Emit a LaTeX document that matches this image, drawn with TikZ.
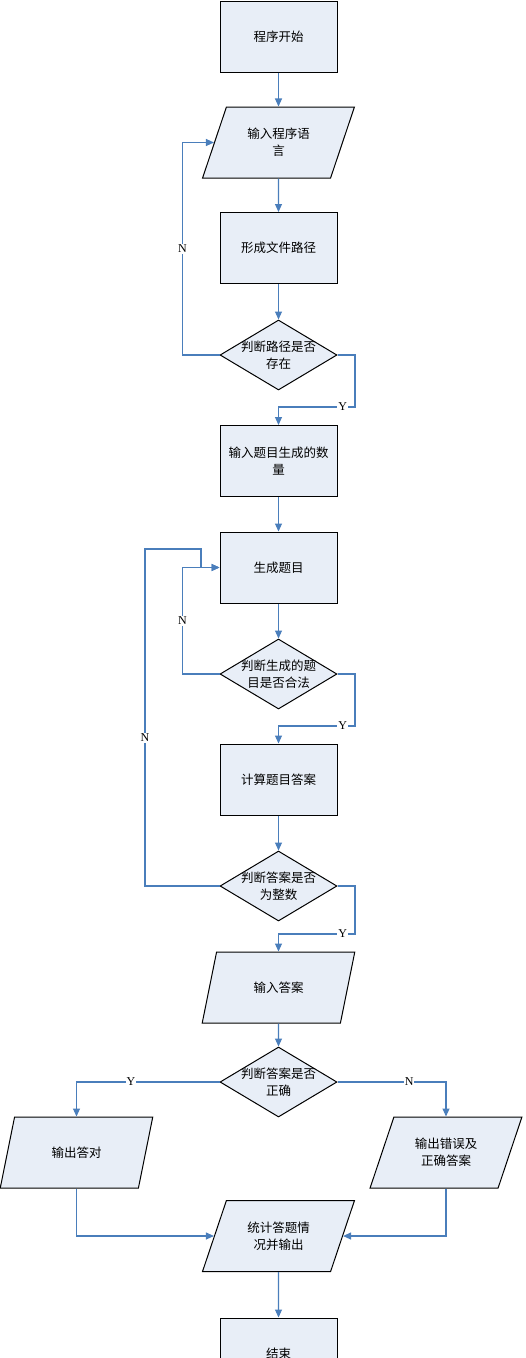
\documentclass[tikz,border=0pt]{standalone}
\usepackage{fontspec}
\setmainfont{Liberation Serif}
\newfontfamily\cjk{Noto Sans CJK SC}
\usetikzlibrary{arrows.meta,shapes.geometric}

\definecolor{boxfill}{HTML}{E8EEF7}
\definecolor{linkblue}{HTML}{4A7EBB}

\tikzset{
  cjktext/.style={font=\cjk\fontsize{12.5}{17}\selectfont, align=center},
  box/.style={draw=black, line width=1pt, fill=boxfill, minimum width=117pt,
    minimum height=71pt, inner sep=0pt, cjktext},
  io/.style={trapezium, trapezium left angle=63.4, trapezium right angle=116.6,
    trapezium stretches=true, draw=black, line width=1pt, fill=boxfill,
    minimum width=153pt, minimum height=71pt, inner sep=0pt, cjktext},
  decision/.style={diamond, draw=black, line width=1pt, fill=boxfill,
    minimum width=117pt, minimum height=70pt, inner sep=0pt},
  conn/.style={draw=linkblue, line width=1.1pt, -{Triangle[length=8pt,width=7pt]}},
  flag/.style={fill=white, inner sep=1pt, text=black, font=\fontsize{12}{12}\selectfont}
}

\begin{document}
\begin{tikzpicture}[x=1pt, y=-1pt]
  \useasboundingbox (0,0) rectangle (526,1358);
  \clip (0,0) rectangle (526,1358);

  % Main column
  \node[box] (start) at (278.5, 36.5) {程序开始};
  \node[io] (lang) at (278.5, 142.5) {输入程序语\\言};
  \node[box] (path) at (278.5, 248) {形成文件路径};
  \node[decision, label={[cjktext]center:{判断路径是否\\存在}}] (chkpath) at (278.5, 355) {};
  \node[box] (count) at (278.5, 461) {输入题目生成的数\\量};
  \node[box] (gen) at (278.5, 567.5) {生成题目};
  \node[decision, label={[cjktext]center:{判断生成的题\\目是否合法}}] (chkgen) at (278.5, 674) {};
  \node[box] (calc) at (278.5, 779.5) {计算题目答案};
  \node[decision, label={[cjktext]center:{判断答案是否\\为整数}}] (chkint) at (278.5, 886) {};
  \node[io] (answer) at (278.5, 987.5) {输入答案};
  \node[decision, label={[cjktext]center:{判断答案是否\\正确}}] (chkans) at (278.5, 1082) {};

  % Branches and end
  \node[io] (right) at (76.5, 1152.5) {输出答对};
  \node[io] (wrong) at (446, 1152.5) {输出错误及\\正确答案};
  \node[io] (stats) at (278.5, 1236) {统计答题情\\况并输出};
  \node[box] (finish) at (278.5, 1353.5) {结束};

  % Turning points
  \coordinate (ypath) at (355, 407);
  \coordinate (ygen) at (355, 726);
  \coordinate (yint) at (355, 934);
  \coordinate (nint) at (145, 549);
  \coordinate (nmeet) at (201, 567.5);

  % Straight links
  \draw[conn] (start) -- (lang);
  \draw[conn] (lang) -- (path);
  \draw[conn] (path) -- (chkpath);
  \draw[conn] (count) -- (gen);
  \draw[conn] (gen) -- (chkgen);
  \draw[conn] (calc) -- (chkint);
  \draw[conn] (answer) -- (chkans);
  \draw[conn] (stats) -- (finish);

  % Loops back (N)
  \draw[conn] (chkpath.west) -- ++(-37,0) |- (lang.west) node[flag, pos=0.25] {N};
  \draw[conn] (chkgen.west) -- ++(-37,0) |- (gen.west) node[flag, pos=0.25] {N};
  \draw[conn] (chkint.west) -| (nint) node[flag, pos=0.72] {N} -| (nmeet) -- (gen.west);

  % Go on (Y)
  \draw[conn] (chkpath.east) -| (ypath) -| (count.north) node[flag, pos=0.08] {Y};
  \draw[conn] (chkgen.east) -| (ygen) -| (calc.north) node[flag, pos=0.08] {Y};
  \draw[conn] (chkint.east) -| (yint) -| (answer.north) node[flag, pos=0.08] {Y};

  % Result branches
  \draw[conn] (chkans.west) -| (right.north) node[flag, pos=0.31] {Y};
  \draw[conn] (chkans.east) -| (wrong.north) node[flag, pos=0.33] {N};
  \draw[conn] (right.south) |- (stats.west);
  \draw[conn] (wrong.south) |- (stats.east);
\end{tikzpicture}
\end{document}
